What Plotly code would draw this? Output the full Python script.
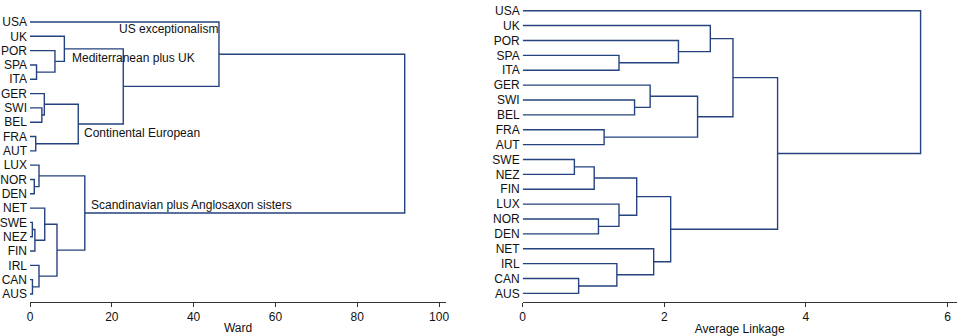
import plotly.graph_objects as go

# ---------------- data ----------------
# Ward linkage: leaf order (top to bottom) and merges (child a, child b, height)
# leaves are ids 0..19, each merge creates new id 20, 21, ...
ward_leaves = ["USA", "UK", "POR", "SPA", "ITA", "GER", "SWI", "BEL", "FRA", "AUT",
               "LUX", "NOR", "DEN", "NET", "SWE", "NEZ", "FIN", "IRL", "CAN", "AUS"]
ward_a = [3, 2, 1, 6, 5, 8, 24, 22, 0, 11, 10, 14, 31, 13, 18, 17, 33, 30, 28]
ward_b = [4, 20, 21, 7, 23, 9, 25, 26, 27, 12, 29, 15, 16, 32, 19, 34, 35, 36, 37]
ward_h = [1.6, 6.1, 8.4, 2.9, 3.5, 1.4, 11.8, 22.8, 46.2, 1.05, 2.2, 0.57, 1.2, 3.6,
          0.6, 2.2, 6.6, 13.4, 91.6]

avg_leaves = ["USA", "UK", "POR", "SPA", "ITA", "GER", "SWI", "BEL", "FRA", "AUT",
              "SWE", "NEZ", "FIN", "LUX", "NOR", "DEN", "NET", "IRL", "CAN", "AUS"]
avg_a = [3, 2, 1, 6, 5, 8, 24, 22, 10, 28, 14, 13, 29, 18, 17, 16, 32, 27, 0]
avg_b = [4, 20, 21, 7, 23, 9, 25, 26, 11, 12, 15, 30, 31, 19, 33, 34, 35, 36, 37]
avg_h = [1.36, 2.20, 2.65, 1.58, 1.80, 1.15, 2.47, 2.97, 0.73, 1.01, 1.07, 1.36, 1.61,
         0.79, 1.33, 1.85, 2.09, 3.60, 5.62]

ward_ticks = [0, 20, 40, 60, 80, 100]
avg_ticks = [0, 2, 4, 6]

cluster_labels = ["US exceptionalism", "Mediterranean plus UK", "Continental European",
                  "Scandinavian plus Anglosaxon sisters"]
cluster_label_x = [21.5, 9.95, 12.9, 14.7]
cluster_label_y = [0.49, 2.51, 7.73, 12.78]

LINE = "#25437f"
AXIS = "#333333"
FONT = "Liberation Sans, Arial, Helvetica, sans-serif"


def dendro_path(n_leaves, a_list, b_list, h_list):
    ypos = {i: float(i) for i in range(n_leaves)}
    hpos = {i: 0.0 for i in range(n_leaves)}
    xs, ys = [], []
    for k, (a, b, h) in enumerate(zip(a_list, b_list, h_list)):
        nid = n_leaves + k
        xs += [hpos[a], h, h, hpos[b], None]
        ys += [ypos[a], ypos[a], ypos[b], ypos[b], None]
        ypos[nid] = (ypos[a] + ypos[b]) / 2
        hpos[nid] = h
    return xs, ys


wx, wy = dendro_path(len(ward_leaves), ward_a, ward_b, ward_h)
ax_, ay_ = dendro_path(len(avg_leaves), avg_a, avg_b, avg_h)

fig = go.Figure()
fig.add_trace(go.Scatter(x=wx, y=wy, mode="lines", line=dict(color=LINE, width=1.4),
                         xaxis="x", yaxis="y", showlegend=False, hoverinfo="skip"))
fig.add_trace(go.Scatter(x=ax_, y=ay_, mode="lines", line=dict(color=LINE, width=1.4),
                         xaxis="x2", yaxis="y2", showlegend=False, hoverinfo="skip"))

W, H = 958, 336
ML, MR, MT, MB = 30, 1, 0, 34
PW = W - ML - MR


def dom(p0, p1):
    return [(p0 - ML) / PW, (p1 - ML) / PW]


xcommon = dict(showgrid=False, zeroline=False, showline=True, linecolor=AXIS, linewidth=1,
               ticks="outside", ticklen=4, tickcolor=AXIS, tickwidth=1,
               tickfont=dict(size=12, color="#111111", family=FONT),
               title_font=dict(size=12, color="#111111", family=FONT), automargin=False)
ycommon = dict(showgrid=False, zeroline=False, showline=False, ticks="",
               tickfont=dict(size=12, color="#111111", family=FONT), automargin=False,
               ticklabelstandoff=2)

fig.update_layout(
    width=W, height=H,
    margin=dict(l=ML, r=MR, t=MT, b=MB),
    paper_bgcolor="white", plot_bgcolor="white",
    font=dict(family=FONT, size=12, color="#111111"),
    xaxis=dict(domain=dom(30, 446), range=[0, 101.7], tickvals=ward_ticks,
               title=dict(text="Ward", standoff=0), anchor="y", **xcommon),
    yaxis=dict(domain=[0, 1], range=[19.56, -1.537], tickvals=list(range(len(ward_leaves))),
               ticktext=ward_leaves, anchor="x", **ycommon),
    xaxis2=dict(domain=dom(522.7, 956.7), range=[0, 6.13], tickvals=avg_ticks,
                title=dict(text="Average Linkage", standoff=2), anchor="y2", **xcommon),
    yaxis2=dict(domain=[0, 1], range=[19.58, -0.719], tickvals=list(range(len(avg_leaves))),
                ticktext=avg_leaves, anchor="x2", **ycommon),
)

for t, x, y in zip(cluster_labels, cluster_label_x, cluster_label_y):
    fig.add_annotation(text=t, x=x, y=y, xref="x", yref="y", xanchor="left", yanchor="middle",
                       showarrow=False, font=dict(size=12, color="#111111", family=FONT),
                       borderpad=0)

fig.write_html("out.html", config={"displayModeBar": False},
               post_script="document.body.style.margin='0';document.body.style.overflow='hidden';")
